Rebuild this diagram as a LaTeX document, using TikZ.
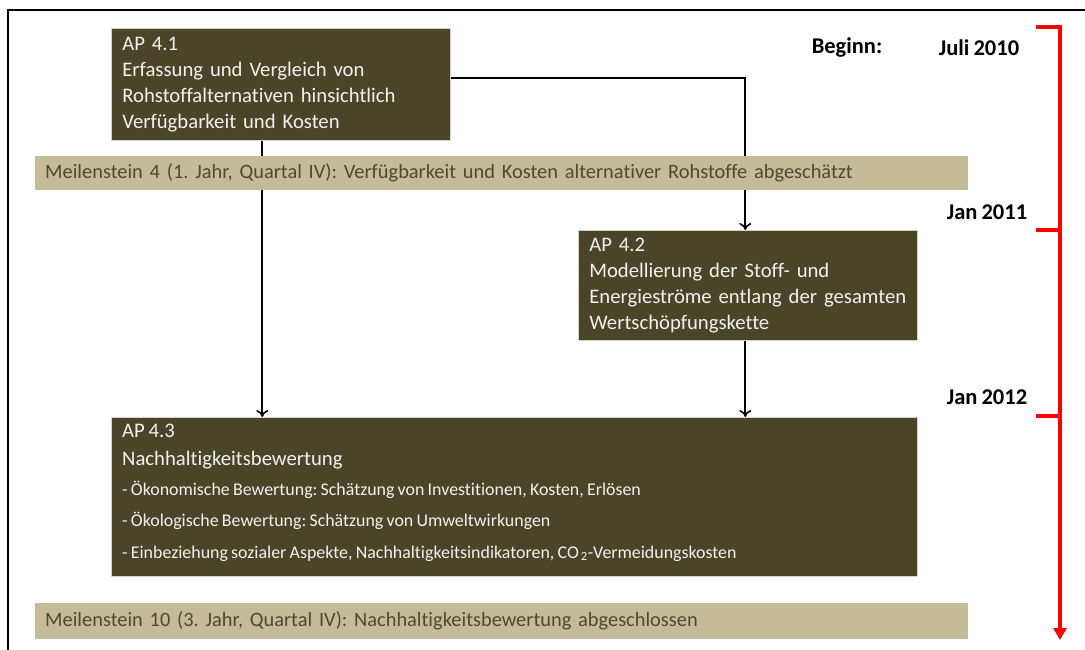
\documentclass[tikz,border=0pt]{standalone}
\usepackage{fontspec}
\setmainfont{Carlito}[Ligatures=NoCommon, WordSpace=0.8]
\usetikzlibrary{arrows.meta}
\definecolor{cBox}{RGB}{74,69,41}
\definecolor{cBar}{RGB}{196,188,153}
\definecolor{cBarText}{RGB}{78,73,48}
\definecolor{cBoxText}{RGB}{242,242,236}
\definecolor{cEdge}{RGB}{215,212,198}
\definecolor{cRed}{RGB}{255,0,0}
\frenchspacing
\begin{document}
\begin{tikzpicture}[x=1pt,y=-1pt,
  apbox/.style={fill=cBox, draw=cEdge, line width=0.6pt, anchor=north west,
    inner xsep=11pt, inner ysep=0pt, text=cBoxText, align=left,
    font=\fontsize{20.7}{26}\selectfont},
  msbar/.style={fill=cBar, draw=none, anchor=north west, inner xsep=10pt,
    inner ysep=0pt, text=cBarText, align=left, text width=913pt,
    font=\fontsize{20.4}{24}\selectfont},
  boxline/.style={anchor=mid west, inner sep=0pt, text=cBoxText},
  bullet/.style={boxline, font=\fontsize{17.9}{20}\selectfont},
  arr/.style={line width=1.8pt, -{To[length=7pt,width=12pt,line width=1.6pt]}},
  tline/.style={cRed, line width=3.5pt},
  tlabel/.style={font=\fontsize{22.5}{26}\bfseries, inner sep=0pt}]
\useasboundingbox (0,0) rectangle (1085,650);
% frame
\coordinate (fTL) at (8,10);
\coordinate (fTR) at (1085,10);
\coordinate (fBL) at (8,650);
\draw[line width=2.2pt] (fBL) -- (fTL) -- (fTR);
% boxes
\node[apbox, text width=317pt, minimum height=112pt] (ap41) at (111,28)
  {AP 4.1\\Erfassung und Vergleich von\\Rohstoffalternativen hinsichtlich\\Verfügbarkeit und Kosten};
\node[apbox, text width=317pt, minimum height=110pt] (ap42) at (578,230)
  {AP 4.2\\Modellierung der Stoff- und\\Energieströme entlang der gesamten\\Wertschöpfungskette};
\node[apbox, text width=784pt, minimum height=159pt] (ap43) at (111,417) {};
\node[boxline, font=\fontsize{20.7}{25}\selectfont] (t43a) at (122,435) {AP 4.3};
\node[boxline, font=\fontsize{20.7}{25}\selectfont] (t43b) at (122,463) {Nachhaltigkeitsbewertung};
\node[bullet] (t43c) at (122,493) {- Ökonomische Bewertung: Schätzung von Investitionen, Kosten, Erlösen};
\node[bullet] (t43d) at (122,524) {- Ökologische Bewertung: Schätzung von Umweltwirkungen};
\node[bullet] (t43e) at (122,556) {- Einbeziehung sozialer Aspekte, Nachhaltigkeitsindikatoren, CO\kern2pt\textsubscript{2}-Vermeidungskosten};
% connectors
\draw[arr] ([yshift=6pt]ap41.east) -| ([xshift=-2.5pt]ap42.north);
\draw[arr] ([xshift=-18.5pt]ap41.south) -- ([xshift=-18.5pt]ap41.south |- ap43.north);
\draw[arr] ([xshift=-2.5pt]ap42.south) -- ([xshift=-2.5pt]ap42.south |- ap43.north);
% milestones
\node[msbar, minimum height=34pt] (ms4) at (35,156)
  {Meilenstein 4 (1. Jahr, Quartal IV): Verfügbarkeit und Kosten alternativer Rohstoffe abgeschätzt};
\node[msbar, minimum height=36pt] (ms10) at (35,603)
  {Meilenstein 10 (3. Jahr, Quartal IV): Nachhaltigkeitsbewertung abgeschlossen};
% timeline
\coordinate (tk0) at (1036,27);
\coordinate (tTop) at (1060,27);
\coordinate (tEnd) at (1060,640);
\coordinate (tk1) at (1036,230);
\coordinate (tk1r) at (1060,230);
\coordinate (tk2) at (1036,416);
\coordinate (tk2r) at (1060,416);
\draw[tline, -{Triangle[length=12pt,width=13pt]}] (tk0) -- (tTop) -- (tEnd);
\draw[tline] (tk1) -- (tk1r);
\draw[tline] (tk2) -- (tk2r);
\node[tlabel] (lbeg) at (847,48) {Beginn:};
\node[tlabel] (ljul) at (979,48) {Juli 2010};
\node[tlabel] (lj11) at (987,212) {Jan 2011};
\node[tlabel] (lj12) at (987,397) {Jan 2012};
\end{tikzpicture}
\end{document}
